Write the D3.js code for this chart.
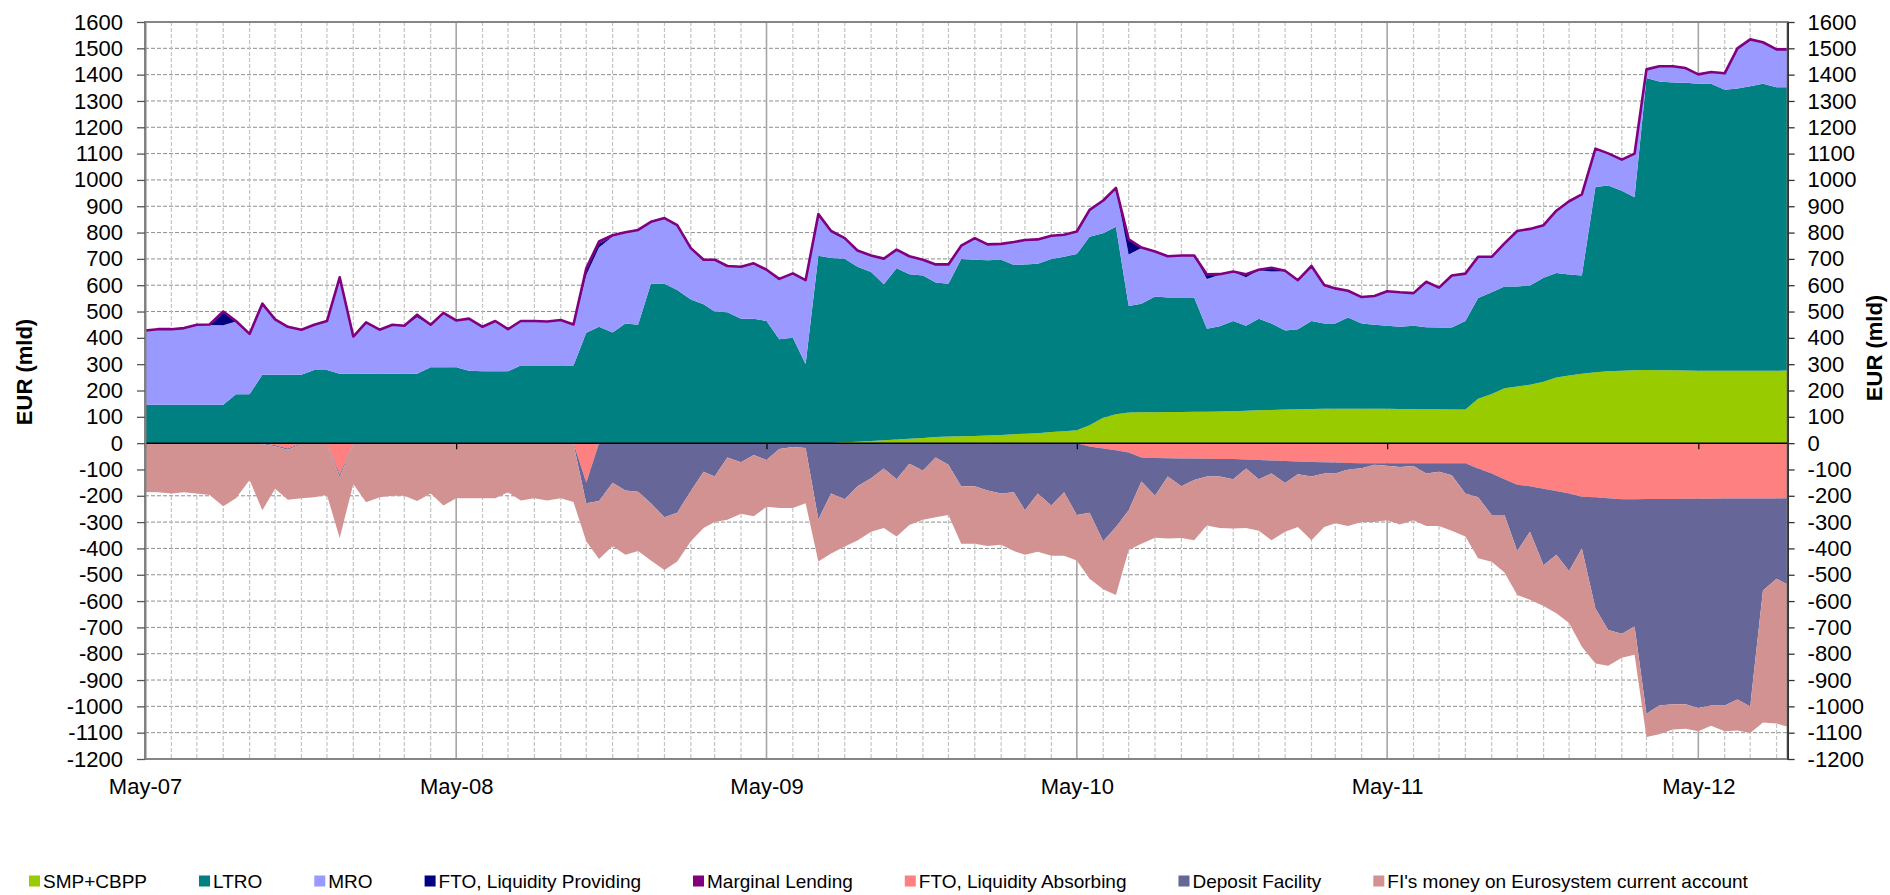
<!DOCTYPE html>
<html>
<head>
<meta charset="utf-8">
<script src="https://cdn.jsdelivr.net/npm/d3@7"></script>
<style>
  html, body { margin: 0; padding: 0; background: #fff; }
  svg { display: block; font-family: "Liberation Sans", Arial, Helvetica, sans-serif; }
</style>
</head>
<body>
<svg id="chart" width="1890" height="895"></svg>
<script>
// Eurosystem balance sheet: liquidity providing (above zero) and absorbing (below zero), EUR bn
const dates = [
  "2007-05-01","2007-05-16","2007-06-01","2007-06-16","2007-07-01","2007-07-16","2007-08-01","2007-08-16",
  "2007-09-01","2007-09-16","2007-10-01","2007-10-16","2007-11-01","2007-11-16","2007-12-01","2007-12-16",
  "2008-01-01","2008-01-16","2008-02-01","2008-02-16","2008-03-01","2008-03-16","2008-04-01","2008-04-16",
  "2008-05-01","2008-05-16","2008-06-01","2008-06-16","2008-07-01","2008-07-16","2008-08-01","2008-08-16",
  "2008-09-01","2008-09-16","2008-10-01","2008-10-16","2008-11-01","2008-11-16","2008-12-01","2008-12-16",
  "2009-01-01","2009-01-16","2009-02-01","2009-02-16","2009-03-01","2009-03-16","2009-04-01","2009-04-16",
  "2009-05-01","2009-05-16","2009-06-01","2009-06-16","2009-07-01","2009-07-16","2009-08-01","2009-08-16",
  "2009-09-01","2009-09-16","2009-10-01","2009-10-16","2009-11-01","2009-11-16","2009-12-01","2009-12-16",
  "2010-01-01","2010-01-16","2010-02-01","2010-02-16","2010-03-01","2010-03-16","2010-04-01","2010-04-16",
  "2010-05-01","2010-05-16","2010-06-01","2010-06-16","2010-07-01","2010-07-16","2010-08-01","2010-08-16",
  "2010-09-01","2010-09-16","2010-10-01","2010-10-16","2010-11-01","2010-11-16","2010-12-01","2010-12-16",
  "2011-01-01","2011-01-16","2011-02-01","2011-02-16","2011-03-01","2011-03-16","2011-04-01","2011-04-16",
  "2011-05-01","2011-05-16","2011-06-01","2011-06-16","2011-07-01","2011-07-16","2011-08-01","2011-08-16",
  "2011-09-01","2011-09-16","2011-10-01","2011-10-16","2011-11-01","2011-11-16","2011-12-01","2011-12-16",
  "2012-01-01","2012-01-16","2012-02-01","2012-02-16","2012-03-01","2012-03-16","2012-04-01","2012-04-16",
  "2012-05-01","2012-05-16","2012-06-01","2012-06-16","2012-07-01","2012-07-16","2012-08-01","2012-08-14"
];

// Liquidity providing
const smpCbpp = [
  0,0,0,0,0,0,0,0,0,0,0,0,0,0,0,0,
  0,0,0,0,0,0,0,0,0,0,0,0,0,0,0,0,
  0,0,0,0,0,0,0,0,0,0,0,0,0,0,0,0,
  0,0,0,0,0,1,3,5,8,11,14,17,20,23,25,26,
  27,29,31,34,36,38,42,45,49,68,96,110,116,117,117,118,
  118,119,119,120,121,123,125,126,128,129,130,131,131,131,131,131,
  131,130,130,129,129,128,128,169,187,209,215,222,233,249,257,264,
  269,273,275,277,278,277,277,276,275,275,275,275,275,275,275,276
];
const ltro = [
  146,146,146,146,146,146,146,186,186,260,260,260,260,278,278,264,
  264,264,264,264,264,264,288,288,288,275,273,273,273,295,295,295,
  295,295,419,442,420,455,450,606,606,582,546,528,500,497,473,473,
  464,395,400,300,712,702,698,665,642,593,650,625,617,587,581,674,
  670,666,666,643,643,644,658,663,670,716,701,712,405,413,440,435,
  435,434,316,324,343,323,348,329,300,304,334,324,324,346,324,319,
  315,312,316,311,310,311,336,382,386,386,380,377,395,397,384,373,
  704,706,684,657,1109,1097,1093,1093,1090,1090,1068,1072,1081,1090,1077,1076
];
const mro = [
  280,285,285,289,302,303,302,276,227,268,208,180,169,170,184,364,
  139,193,165,184,180,214,160,205,176,196,167,189,158,167,167,165,
  171,154,220,301,365,343,357,232,246,243,193,167,195,174,195,208,
  193,227,243,317,156,101,76,60,61,95,69,66,58,67,71,48,
  80,58,58,85,91,90,86,82,83,100,123,146,196,211,169,155,
  158,158,189,196,186,184,184,197,225,184,207,140,128,100,98,107,
  129,129,122,171,150,196,178,155,133,162,209,213,198,235,276,306,
  144,120,116,164,31,56,60,54,34,43,60,151,176,156,142,142
];
const ftoProviding = [
  0,0,0,0,0,0,50,0,0,0,0,0,0,0,0,0,
  0,0,0,0,0,8,0,0,0,0,0,0,0,0,0,0,
  0,0,20,15,0,0,0,0,0,0,0,0,0,0,0,0,
  0,0,0,0,0,0,0,0,0,0,0,0,0,0,0,0,
  0,0,0,0,0,0,0,0,0,0,0,0,55,0,0,0,
  0,0,15,0,0,10,0,12,0,0,0,0,0,0,0,0,
  0,0,0,0,0,0,0,0,0,0,0,0,0,0,0,0,
  0,0,0,0,0,0,0,0,0,0,0,0,0,0,0,0
];
const marginalLending = [
  2,2,2,2,2,2,2,2,2,2,2,2,2,2,2,2,
  2,2,2,2,2,2,2,2,2,2,2,2,2,2,2,2,
  2,2,5,8,5,3,3,3,3,3,2,2,2,2,2,2,
  2,2,2,2,2,2,2,2,2,2,2,2,2,2,2,2,
  2,2,2,2,2,2,2,2,2,2,2,2,2,2,2,2,
  2,2,2,2,2,2,2,2,2,2,2,6,5,2,2,2,
  2,2,2,2,2,2,2,2,2,2,2,2,2,2,2,2,
  2,2,2,2,2,2,2,2,2,2,2,2,2,2,2,2
];

// Liquidity absorbing (plotted below zero)
const ftoAbsorbing = [
  0,0,0,0,0,0,0,0,0,0,-8,-20,0,0,0,-120,
  0,0,0,0,0,0,0,0,0,0,0,0,0,0,0,0,
  0,0,-150,0,0,0,0,0,0,0,0,0,0,0,0,0,
  0,0,0,0,0,0,0,0,0,0,0,0,0,0,0,0,
  0,0,0,0,0,0,0,0,0,-13,-20,-27,-36,-55,-56,-57,
  -58,-58,-59,-60,-60,-62,-64,-66,-68,-70,-72,-73,-74,-75,-76,-76,
  -76,-76,-76,-76,-76,-76,-76,-96,-115,-137,-158,-164,-173,-182,-191,-204,
  -206,-209,-213,-213,-212,-212,-212,-211,-211,-211,-210,-210,-210,-210,-210,-209
];
const depositFacility = [
  -3,-3,-3,-3,-3,-3,-3,-3,-3,-3,-4,-5,-3,-3,-3,-10,
  -3,-3,-3,-3,-3,-3,-3,-3,-3,-3,-3,-3,-3,-3,-3,-3,
  -3,-3,-78,-220,-150,-180,-185,-228,-282,-264,-182,-109,-127,-55,-73,-45,
  -64,-22,-15,-18,-290,-191,-213,-164,-133,-96,-137,-78,-104,-55,-82,-164,
  -164,-180,-191,-187,-255,-191,-237,-187,-273,-251,-353,-292,-219,-91,-144,-70,
  -106,-82,-68,-67,-77,-34,-73,-49,-83,-48,-55,-42,-41,-25,-19,-6,
  -10,-15,-11,-39,-33,-46,-115,-110,-158,-136,-252,-173,-291,-242,-295,-196,
  -422,-501,-511,-484,-816,-785,-780,-781,-795,-786,-787,-764,-791,-350,-305,-328
];
const currentAccount = [
  -183,-184,-188,-184,-188,-194,-237,-206,-137,-252,-161,-190,-206,-203,-194,-230,
  -152,-222,-203,-197,-197,-217,-188,-234,-206,-206,-206,-206,-184,-215,-206,-215,
  -206,-221,-145,-220,-241,-244,-225,-218,-200,-186,-191,-213,-173,-236,-195,-233,
  -178,-224,-231,-210,-160,-228,-180,-206,-204,-226,-218,-233,-187,-227,-191,-218,
  -218,-211,-195,-223,-169,-222,-191,-241,-173,-251,-182,-258,-151,-236,-159,-235,
  -196,-229,-186,-195,-187,-226,-196,-254,-186,-201,-242,-204,-189,-215,-205,-218,
  -207,-218,-206,-200,-206,-211,-164,-231,-178,-218,-167,-258,-155,-222,-197,-374,
  -209,-136,-91,-107,-88,-109,-96,-93,-89,-77,-98,-118,-100,-501,-550,-540
];

// Axis ticks
const yTickValues = [-1200,-1100,-1000,-900,-800,-700,-600,-500,-400,-300,-200,-100,0,
  100,200,300,400,500,600,700,800,900,1000,1100,1200,1300,1400,1500,1600];
const xTickDates = ["2007-05-01","2008-05-01","2009-05-01","2010-05-01","2011-05-01","2012-05-01"];
const xDomain = ["2007-05-01","2012-08-14"];

// Series: name, values, colour (stacking order from zero outwards on each side)
const series = [
  { key: "smp",  name: "SMP+CBPP",                                 values: smpCbpp,         color: "#99CC00", side: "up" },
  { key: "ltro", name: "LTRO",                                     values: ltro,            color: "#008080", side: "up" },
  { key: "mro",  name: "MRO",                                      values: mro,             color: "#9999FF", side: "up" },
  { key: "ftoP", name: "FTO, Liquidity Providing",                 values: ftoProviding,    color: "#000080", side: "up" },
  { key: "ml",   name: "Marginal Lending",                         values: marginalLending, color: "#800080", side: "up" },
  { key: "ftoA", name: "FTO, Liquidity Absorbing",                 values: ftoAbsorbing,    color: "#FF8080", side: "down" },
  { key: "dep",  name: "Deposit Facility",                         values: depositFacility, color: "#666699", side: "down" },
  { key: "ca",   name: "FI's money on Eurosystem current account", values: currentAccount,  color: "#D29292", side: "down" }
];

const parse = d3.timeParse("%Y-%m-%d");
const rows = dates.map((d, i) => {
  const r = { date: parse(d) };
  series.forEach(s => { r[s.key] = s.values[i]; });
  return r;
});

const svg = d3.select("#chart");
const plot = { left: 145, right: 1787.6, top: 22, bottom: 759 };
const tickFont = '"Liberation Sans", Arial, sans-serif';

const x = d3.scaleTime().domain(xDomain.map(parse)).range([plot.left, plot.right]);
const y = d3.scaleLinear().domain([-1200, 1600]).range([plot.bottom, plot.top]);

// Gridlines
const grid = svg.append("g");
grid.selectAll("line.hgrid")
  .data(yTickValues.filter(v => v !== 0 && v !== -1200 && v !== 1600))
  .join("line")
  .attr("x1", plot.left).attr("x2", plot.right)
  .attr("y1", d => y(d)).attr("y2", d => y(d))
  .attr("stroke", "#8f8f8f").attr("stroke-width", 1).attr("stroke-dasharray", "4,2");

const months = d3.timeMonth.range(x.domain()[0], x.domain()[1]).slice(1);
grid.selectAll("line.vgrid")
  .data(months.filter(m => m.getMonth() !== 4))
  .join("line")
  .attr("x1", d => x(d)).attr("x2", d => x(d))
  .attr("y1", plot.top).attr("y2", plot.bottom)
  .attr("stroke", "#c4c4c4").attr("stroke-width", 1.2).attr("stroke-dasharray", "4,2");

grid.selectAll("line.ygrid")
  .data(xTickDates.slice(1).map(parse))
  .join("line")
  .attr("x1", d => x(d)).attr("x2", d => x(d))
  .attr("y1", plot.top).attr("y2", plot.bottom)
  .attr("stroke", "#a6a6a6").attr("stroke-width", 1.6);

// Stacked areas: providing stacked upward, absorbing stacked downward
const upSeries = series.filter(s => s.side === "up");
const downSeries = series.filter(s => s.side === "down");
const upLayers = d3.stack().keys(upSeries.map(s => s.key))(rows);
const downLayers = d3.stack().keys(downSeries.map(s => s.key))(rows);

const area = d3.area()
  .x(d => x(d.data.date))
  .y0(d => y(d[0]))
  .y1(d => y(d[1]));

const areas = svg.append("g");
areas.selectAll("path.up")
  .data(upLayers)
  .join("path")
  .attr("d", area)
  .attr("fill", (d, i) => upSeries[i].color);
areas.selectAll("path.down")
  .data(downLayers)
  .join("path")
  .attr("d", area)
  .attr("fill", (d, i) => downSeries[i].color);

// Marginal lending outline on top of the providing stack
const mlLayer = upLayers[upSeries.findIndex(s => s.key === "ml")];
svg.append("path")
  .datum(mlLayer)
  .attr("d", d3.line().x(d => x(d.data.date)).y(d => y(d[1])))
  .attr("fill", "none")
  .attr("stroke", "#800080")
  .attr("stroke-width", 2.6)
  .attr("stroke-linejoin", "round");

// Plot frame
svg.append("rect")
  .attr("x", plot.left).attr("y", plot.top)
  .attr("width", plot.right - plot.left).attr("height", plot.bottom - plot.top)
  .attr("fill", "none").attr("stroke", "#868686").attr("stroke-width", 2);

// Zero line with year ticks
svg.append("line")
  .attr("x1", plot.left).attr("x2", plot.right)
  .attr("y1", y(0)).attr("y2", y(0))
  .attr("stroke", "#000").attr("stroke-width", 1.5);

const zeroAxis = svg.append("g")
  .attr("transform", `translate(0,${y(0)})`)
  .call(d3.axisBottom(x).tickValues(xTickDates.map(parse)).tickSize(6).tickFormat(""));
zeroAxis.select(".domain").remove();
zeroAxis.selectAll("line").attr("stroke", "#000").attr("stroke-width", 1.2);

// Date labels under the plot
const xAxis = svg.append("g")
  .attr("transform", `translate(0,${plot.bottom})`)
  .call(d3.axisBottom(x).tickValues(xTickDates.map(parse)).tickSize(0).tickPadding(19)
    .tickFormat(d3.timeFormat("%b-%y")));
xAxis.select(".domain").remove();
xAxis.selectAll("text").attr("font-size", 22).attr("fill", "#000").attr("font-family", tickFont);

// Value axes, plain integer labels with hyphen minus
const valueLabel = d => String(d);

const yLeft = svg.append("g")
  .attr("transform", `translate(${plot.left},0)`)
  .call(d3.axisLeft(y).tickValues(yTickValues).tickFormat(valueLabel)
    .tickSize(8).tickSizeOuter(0).tickPadding(14));
yLeft.select(".domain").attr("stroke", "#808080").attr("stroke-width", 2);
yLeft.selectAll("line").attr("stroke", "#555").attr("stroke-width", 1.3);
yLeft.selectAll("text").attr("font-size", 22).attr("fill", "#000").attr("font-family", tickFont);

const yRight = svg.append("g")
  .attr("transform", `translate(${plot.right},0)`)
  .call(d3.axisRight(y).tickValues(yTickValues).tickFormat(valueLabel)
    .tickSize(7).tickSizeOuter(0).tickPadding(13));
yRight.select(".domain").attr("stroke", "#333").attr("stroke-width", 1.8);
yRight.selectAll("line").attr("stroke", "#333").attr("stroke-width", 1.3);
yRight.selectAll("text").attr("font-size", 22).attr("fill", "#000").attr("font-family", tickFont);

// Axis titles
const unitTitle = "EUR (mld)";
svg.append("text")
  .attr("transform", "translate(24,372) rotate(-90)")
  .attr("text-anchor", "middle").attr("dominant-baseline", "central")
  .attr("font-size", 22).attr("font-weight", "bold")
  .text(unitTitle);
svg.append("text")
  .attr("transform", "translate(1874,348) rotate(-90)")
  .attr("text-anchor", "middle").attr("dominant-baseline", "central")
  .attr("font-size", 22).attr("font-weight", "bold")
  .text(unitTitle);

// Legend, laid out left to right
const legend = svg.append("g");
let lx = 29;
const ly = 881;
series.forEach(s => {
  legend.append("rect")
    .attr("x", lx).attr("y", ly - 5.5)
    .attr("width", 11).attr("height", 11)
    .attr("fill", s.color);
  const t = legend.append("text")
    .attr("x", lx + 14).attr("y", ly + 6.8)
    .attr("font-size", 19).attr("fill", "#000")
    .text(s.name);
  lx += 14 + t.node().getComputedTextLength() + 52;
});
</script>
</body>
</html>
